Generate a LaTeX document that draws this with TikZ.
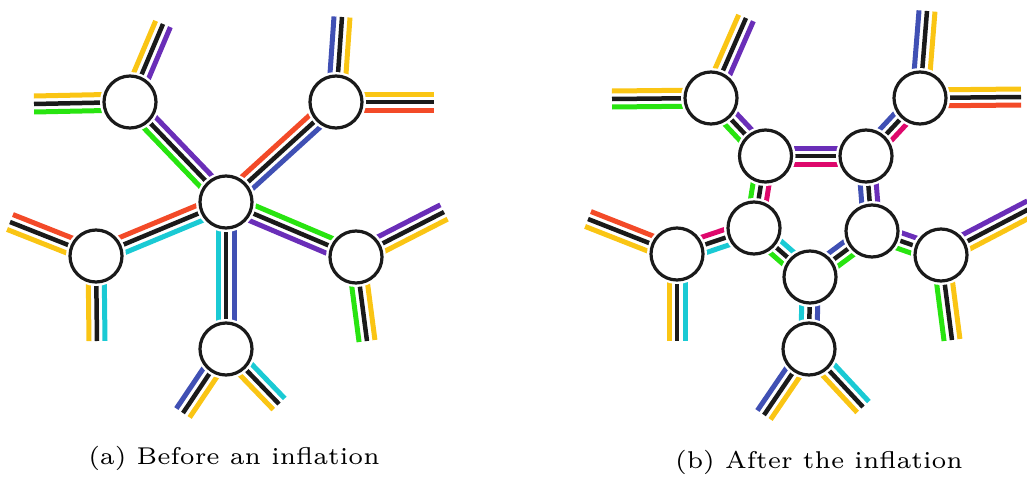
\documentclass[tikz,border=0pt]{standalone}
\usepackage{graphicx}
\usetikzlibrary{calc}
\pgfdeclarelayer{bg}
\pgfsetlayers{bg,main}
\definecolor{cY}{RGB}{250,197,20}
\definecolor{cP}{RGB}{106,46,184}
\definecolor{cG}{RGB}{40,228,16}
\definecolor{cR}{RGB}{243,74,40}
\definecolor{cB}{RGB}{64,80,180}
\definecolor{cC}{RGB}{26,202,212}
\definecolor{cM}{RGB}{222,8,108}
\definecolor{cK}{RGB}{26,26,26}
\tikzset{
  vtx/.style={circle, minimum size=52pt, inner sep=0pt, fill=white, draw=cK,
    line width=3.2pt, preaction={draw=white, line width=8pt}},
  band/.style={line width=5pt},
  mid/.style={line width=4.5pt, draw=cK},
  captext/.style={anchor=base, inner sep=0pt},
}
\newcommand\off{8pt}
% #1 from, #2 to, #3 colour on the left of the direction, #4 colour on the right
\newcommand\tri[4]{%
  \draw[band, draw=#3] ($(#1.center)!\off!90:(#2.center)$) -- ($(#2.center)!\off!-90:(#1.center)$);
  \draw[mid] (#1.center) -- (#2.center);
  \draw[band, draw=#4] ($(#1.center)!\off!-90:(#2.center)$) -- ($(#2.center)!\off!90:(#1.center)$);
}
\newcommand\captxt[1]{\scalebox{4.05}{\fontsize{6}{7}\selectfont #1}}
\begin{document}
\begin{tikzpicture}[x=1pt, y=-1pt]
\useasboundingbox (0,0) rectangle (1027,479);
\clip (0,0) rectangle (1027,479);
% ---------- panel (a) ----------
\node[vtx] (C)  at (226,202) {};
\node[vtx] (A1) at (130,102) {};
\node[vtx] (A2) at (336,102) {};
\node[vtx] (A3) at (96,256) {};
\node[vtx] (A4) at (356,257) {};
\node[vtx] (A5) at (226,349) {};
\coordinate (e11) at (163,24);
\coordinate (e12) at (34,104);
\coordinate (e21) at (342,17);
\coordinate (e22) at (434,102);
\coordinate (e31) at (10,222);
\coordinate (e32) at (97,341);
\coordinate (e41) at (444,212);
\coordinate (e42) at (367,341);
\coordinate (e51) at (183,413);
\coordinate (e52) at (279,404);
% ---------- panel (b) ----------
\node[vtx] (O1) at (711,98) {};
\node[vtx] (O2) at (920,98) {};
\node[vtx] (O3) at (677,254) {};
\node[vtx] (O4) at (941,255) {};
\node[vtx] (O5) at (809,349) {};
\node[vtx] (R1) at (765.5,156) {};
\node[vtx] (R2) at (866,156) {};
\node[vtx] (R3) at (754,228) {};
\node[vtx] (R4) at (872,231) {};
\node[vtx] (R5) at (810,277) {};
\coordinate (f11) at (746,18);
\coordinate (f12) at (612,99);
\coordinate (f21) at (927,11);
\coordinate (f22) at (1021,97);
\coordinate (f31) at (588,219);
\coordinate (f32) at (677,341);
\coordinate (f41) at (1031,208);
\coordinate (f42) at (952,340);
\coordinate (f51) at (764,415);
\coordinate (f52) at (863,407);
\begin{pgfonlayer}{bg}
  % panel (a)
  \tri{A1}{e11}{cY}{cP}
  \tri{A1}{e12}{cG}{cY}
  \tri{A1}{C}{cP}{cG}
  \tri{A2}{e21}{cB}{cY}
  \tri{A2}{e22}{cY}{cR}
  \tri{C}{A2}{cR}{cB}
  \tri{A3}{e31}{cY}{cR}
  \tri{A3}{e32}{cC}{cY}
  \tri{C}{A3}{cC}{cR}
  \tri{A4}{e41}{cP}{cY}
  \tri{A4}{e42}{cY}{cG}
  \tri{C}{A4}{cG}{cP}
  \tri{A5}{e51}{cY}{cB}
  \tri{A5}{e52}{cC}{cY}
  \tri{C}{A5}{cB}{cC}
  % panel (b)
  \tri{O1}{f11}{cY}{cP}
  \tri{O1}{f12}{cG}{cY}
  \tri{O1}{R1}{cP}{cG}
  \tri{O2}{f21}{cB}{cY}
  \tri{O2}{f22}{cY}{cR}
  \tri{R2}{O2}{cB}{cM}
  \tri{O3}{f31}{cY}{cR}
  \tri{O3}{f32}{cC}{cY}
  \tri{R3}{O3}{cC}{cM}
  \tri{O4}{f41}{cP}{cY}
  \tri{O4}{f42}{cY}{cG}
  \tri{R4}{O4}{cP}{cG}
  \tri{O5}{f51}{cY}{cB}
  \tri{O5}{f52}{cC}{cY}
  \tri{R5}{O5}{cB}{cC}
  \tri{R1}{R2}{cP}{cM}
  \tri{R1}{R3}{cM}{cG}
  \tri{R2}{R4}{cP}{cB}
  \tri{R3}{R5}{cC}{cG}
  \tri{R4}{R5}{cG}{cB}
\end{pgfonlayer}
% captions
\node[captext] (capa) at (234,464) {\captxt{(a) Before an inflation}};
\node[captext] (capb) at (819,468) {\captxt{(b) After the inflation}};
\end{tikzpicture}
\end{document}
